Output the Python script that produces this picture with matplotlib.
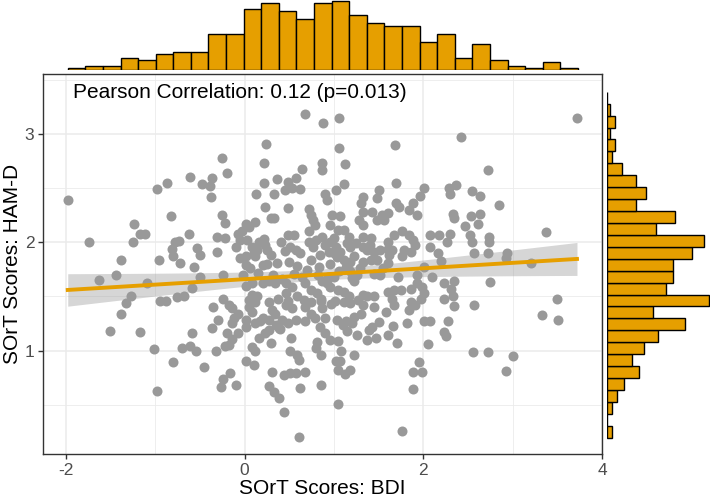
import numpy as np
import matplotlib
matplotlib.use("Agg")
import matplotlib.pyplot as plt

plt.rcParams['font.family'] = ['Liberation Sans', 'DejaVu Sans']
plt.rcParams['axes.unicode_minus'] = False

# SOrT scores, grouped by area of the plot
bdi_left = [-1.98, -1.74, -1.38, -1.63, -1.44, -1.51, -1.33, -1.38, -1.27, -1.24,
            -1.25, -1.17, -1.11, -1.17, -1.09, -1.02, -0.98, -0.98, -0.87, -0.82,
            -0.96, -0.95, -0.88, -0.80, -0.78, -0.73, -0.81, -0.80, -0.72, -0.76,
            -0.68, -0.61, -0.48, -0.39, -0.37, -0.62, -0.53, -0.50, -0.57, -0.59,
            -0.59, -0.61, -0.55, -0.46, -0.35, -0.36, -0.32, -0.31, -0.31, -0.25,
            -0.20, -0.25, -0.22, -0.22, -0.24, -0.24, -0.18, -0.20, -0.22, -0.24,
            -0.27]
hamd_left = [2.39, 2.00, 1.84, 1.65, 1.70, 1.18, 1.44, 1.34, 1.50, 2.17,
             2.00, 2.08, 2.08, 1.17, 1.62, 1.01, 0.63, 2.49, 2.55, 2.24,
             1.84, 1.46, 1.46, 0.89, 2.00, 2.01, 1.94, 1.87, 1.81, 1.49,
             1.50, 2.60, 2.54, 2.52, 2.59, 2.08, 1.95, 1.88, 1.77, 1.58,
             1.16, 1.04, 1.00, 0.85, 1.40, 1.21, 1.00, 2.05, 1.91, 2.78,
             2.64, 2.25, 2.18, 2.04, 1.70, 1.48, 1.42, 1.16, 1.04, 0.74,
             0.66]

bdi_mid = [0.68, 0.88, 0.24, 0.22, 0.22, 0.36, 0.49, 0.57, 0.64, 0.53,
           0.62, 0.87, 0.87, 0.33, 0.23, 0.48, 0.72, 0.74, 0.90, 0.92,
           0.29, 0.33, 0.12, 0.01, 0.05, -0.03, -0.07, 0.49, 0.55, 0.72,
           0.77, 0.79, -0.05, -0.10, 0.16, 0.23, 0.08, 0.14, 0.25, 0.51,
           0.57, 0.72, 0.76, 0.87, 0.90, 0.94, 0.01, 0.12, 0.20, 0.01,
           0.06, 0.36, 0.59, 0.74, 0.83, 0.64, 0.20, 0.27, 0.34, 0.01,
           0.08, 0.46, 0.53, 0.68, 0.74, 0.81, 0.87, 0.92, 0.46, 0.08,
           0.14, 0.27, 0.59, 0.66, 0.74, 0.85, -0.14, -0.07, 0.05, 0.08,
           0.31, 0.34, 0.46, 0.53, 0.68, 0.74, 0.87, 0.90, 0.01, 0.12,
           0.20, 0.27, 0.42, 0.49, 0.57, 0.68, 0.79, -0.14, 0.27, 0.38]
hamd_mid = [3.18, 3.10, 2.91, 2.73, 2.55, 2.58, 2.56, 2.59, 2.68, 2.50,
            2.49, 2.73, 2.67, 2.45, 2.33, 2.32, 2.31, 2.25, 2.45, 2.39,
            2.22, 2.22, 2.19, 2.17, 2.14, 2.10, 2.08, 2.07, 2.07, 2.10,
            2.21, 2.16, 2.02, 1.96, 2.00, 1.97, 1.96, 1.93, 1.93, 1.96,
            1.93, 2.00, 1.96, 2.05, 1.97, 1.91, 1.87, 1.87, 1.79, 1.79,
            1.76, 1.81, 1.78, 1.84, 1.77, 1.68, 1.62, 1.64, 1.62, 1.60,
            1.62, 1.62, 1.59, 1.62, 1.56, 1.53, 1.64, 1.62, 1.53, 1.51,
            1.50, 1.45, 1.50, 1.47, 1.45, 1.48, 1.39, 1.34, 1.40, 1.36,
            1.37, 1.34, 1.42, 1.39, 1.40, 1.34, 1.39, 1.30, 1.28, 1.25,
            1.30, 1.28, 1.28, 1.25, 1.28, 1.27, 1.30, 1.25, 1.19, 1.21]

bdi_right = [1.06, 1.68, 1.06, 1.12, 1.69, 1.11, 1.02, 2.01, 1.96, 1.50,
             1.48, 1.32, 1.30, 1.69, 1.73, 1.88, 1.43, 1.54, 1.60, 1.33,
             1.84, 1.93, 0.98, 1.07, 0.96, 1.04, 1.28, 1.32, 1.48, 1.56,
             1.11, 1.17, 1.76, 1.84, 1.67, 1.61, 1.33, 1.41, 1.89, 1.91,
             2.08, 1.02, 1.07, 1.00, 1.18, 1.22, 1.32, 1.37, 1.45, 1.52,
             1.60, 1.65, 1.78, 1.86, 1.76, 2.08, 1.11, 1.18, 1.33, 1.41,
             1.48, 1.60, 2.01, 1.00, 1.18, 1.26, 1.45, 1.52, 1.93, 0.96,
             1.04, 1.20, 1.22, 1.11, 1.17, 1.32, 1.37, 1.45, 1.60, 1.67,
             1.75, 1.86, 1.93, 1.99, 2.01, 1.97, 1.65, 1.67, 1.86, 1.91,
             1.11, 1.18, 1.32, 1.45, 1.58, 1.84, 1.30, 1.22, 1.13, 1.20,
             1.43, 1.82, 2.01, 2.08]
hamd_right = [3.15, 2.90, 2.87, 2.72, 2.55, 2.54, 2.48, 2.50, 2.43, 2.48,
              2.41, 2.42, 2.36, 2.36, 2.33, 2.36, 2.28, 2.25, 2.27, 2.28,
              2.30, 2.25, 2.25, 2.24, 2.16, 2.11, 2.21, 2.16, 2.21, 2.21,
              2.11, 2.05, 2.10, 2.07, 2.07, 2.00, 2.05, 2.04, 2.02, 1.97,
              2.07, 1.96, 1.91, 1.90, 1.96, 1.87, 1.96, 1.93, 1.91, 1.93,
              1.94, 1.93, 1.93, 1.91, 1.87, 1.96, 1.84, 1.82, 1.82, 1.84,
              1.84, 1.81, 1.77, 1.68, 1.73, 1.70, 1.71, 1.70, 1.70, 1.59,
              1.56, 1.67, 1.64, 1.54, 1.50, 1.51, 1.50, 1.50, 1.54, 1.56,
              1.56, 1.57, 1.62, 1.59, 1.53, 1.48, 1.48, 1.42, 1.45, 1.42,
              1.45, 1.44, 1.42, 1.40, 1.36, 1.37, 1.34, 1.31, 1.27, 1.25,
              1.22, 1.25, 1.27, 1.27]

bdi_far = [3.72, 2.42, 2.72, 2.29, 2.37, 2.55, 2.64, 2.85, 2.33, 2.34,
           2.53, 2.64, 2.61, 2.47, 3.37, 2.18, 2.30, 2.52, 2.74, 2.74,
           2.27, 2.55, 2.57, 2.72, 2.94, 2.16, 2.75, 3.20, 2.92, 2.57,
           2.34, 2.23, 2.33, 2.31, 2.34, 2.23, 2.10, 2.28, 2.23, 2.25,
           3.50, 3.33, 3.51, 2.56, 2.72, 3.00, 2.93, 1.95, 1.88, 1.99,
           1.88]
hamd_far = [3.15, 2.97, 2.67, 2.50, 2.53, 2.47, 2.43, 2.34, 2.26, 2.22,
            2.24, 2.26, 2.17, 2.15, 2.09, 2.07, 2.08, 2.07, 2.05, 2.00,
            2.00, 2.00, 1.90, 1.90, 1.90, 1.90, 1.63, 1.81, 1.85, 1.42,
            1.41, 1.48, 1.50, 1.57, 1.64, 1.62, 1.68, 1.27, 1.17, 1.13,
            1.48, 1.33, 1.28, 0.99, 0.99, 0.95, 0.81, 0.89, 0.80, 0.80,
            0.64]

bdi_low = [-0.07, -0.14, 0.12, 0.01, 0.10, -0.16, -0.10, 0.51, 0.59, 0.61,
           0.81, 0.85, 0.90, 1.04, 1.02, 1.04, 1.07, 1.18, 1.22, 1.26,
           1.39, 1.37, 1.60, 1.71, 0.31, 0.44, 0.51, 0.57, 0.27, 0.33,
           0.38, 0.62, 0.85, 0.44, 1.05, 1.76, 0.61]
hamd_low = [1.16, 1.11, 1.00, 0.90, 0.87, 0.79, 0.68, 1.00, 0.96, 0.91,
            1.08, 0.96, 1.16, 1.09, 0.90, 0.82, 0.90, 0.82, 0.96, 1.14,
            1.19, 1.10, 1.14, 1.07, 0.80, 0.77, 0.79, 0.79, 0.67, 0.62,
            0.56, 0.65, 0.68, 0.43, 0.51, 0.26, 0.20]

# points hidden inside the overlapping blobs of the dense centre
bdi_core = [-0.12, -0.05, -0.18, -0.02, 0.03, 0.10, 0.15, 0.05, 0.12, 0.02,
            0.16, 0.08, 0.17, 0.13, 0.22, 0.30, 0.25, 0.32, 0.37, 0.23,
            0.35, 0.29, 0.41, 0.45, 0.50, 0.55, 0.42, 0.48, 0.40, 0.52,
            0.45, 0.62, 0.70, 0.80, 0.95, 0.84, 0.96, 0.82, 0.93, 0.86,
            0.97, 0.84, 0.95, 0.80, 1.00, 1.15, 1.03, 1.14, 1.06, 1.01,
            1.10, 1.15, 1.03, 1.08, 1.25, 1.29, 1.27, 1.40, 1.55, 1.50,
            1.47, 1.62, 1.72, 1.66, 2.20, 2.30, -0.50, -0.30, -0.38, -0.70,
            2.05, 0.68, 1.12]
hamd_core = [1.30, 1.85, 1.05, 1.70, 2.02, 1.90, 1.72, 1.47, 1.45, 1.22,
             1.12, 1.03, 1.27, 2.45, 2.03, 1.88, 1.80, 1.70, 1.48, 1.16,
             1.24, 1.07, 2.00, 1.92, 1.82, 1.71, 1.66, 1.46, 1.20, 1.12,
             2.48, 1.90, 1.74, 2.02, 2.00, 1.88, 1.80, 1.70, 1.68, 1.46,
             1.43, 1.22, 1.10, 1.02, 2.04, 1.99, 1.86, 1.77, 1.73, 1.46,
             1.24, 1.18, 1.28, 1.00, 1.99, 1.76, 1.47, 1.97, 1.76, 1.26,
             1.12, 1.88, 1.68, 1.23, 1.83, 2.45, 1.68, 1.28, 2.42, 1.02,
             1.06, 0.80, 0.78]

# marginal histogram counts (29 bins each)
bdi_bin_range = (-1.98, 3.73)
bdi_counts = [1, 2, 2, 6, 5, 8, 9, 9, 18, 18, 31, 34, 30, 26, 34,
              35, 28, 24, 22, 22, 14, 18, 6, 13, 5, 2, 1, 4, 1]
hamd_bin_range = (0.195, 3.39)
hamd_counts = [2, 0, 2, 4, 7, 13, 10, 15, 21, 32, 19, 42, 24, 27, 27,
               35, 40, 20, 28, 12, 16, 12, 6, 2, 3, 1, 3, 1, 0]

pearson_label = "Pearson Correlation: 0.12 (p=0.013)"

bdi = np.array(bdi_left + bdi_mid + bdi_right + bdi_far + bdi_low + bdi_core)
hamd = np.array(hamd_left + hamd_mid + hamd_right + hamd_far + hamd_low + hamd_core)

# linear fit with 95% band, like geom_smooth(method = "lm")
n = len(bdi)
slope, icpt = np.polyfit(bdi, hamd, 1)
resid = hamd - (icpt + slope * bdi)
s = np.sqrt(np.sum(resid ** 2) / (n - 2))
sxx = np.sum((bdi - bdi.mean()) ** 2)
xs = np.linspace(bdi.min(), bdi.max(), 80)
fit = icpt + slope * xs
se = s * np.sqrt(1 / n + (xs - bdi.mean()) ** 2 / sxx)
band = 1.966 * se

W, H = 710, 501
fig = plt.figure(figsize=(W / 100, H / 100), dpi=100)


def box(l, t, r, b):
    return [l / W, 1 - b / H, (r - l) / W, (b - t) / H]


ax = fig.add_axes(box(43, 74, 602, 454))
ax_top = fig.add_axes(box(43, 0, 602, 69.5))
ax_side = fig.add_axes(box(607.3, 74, 710, 454))

orange = '#E69F00'
xlim = (-2.257, 4.0)
ylim = (0.044, 3.554)

ax.scatter(bdi, hamd, s=52, color='#999999', linewidths=0, zorder=2)
ax.fill_between(xs, fit - band, fit + band, color='#999999', alpha=0.4,
                linewidth=0, zorder=3)
ax.plot(xs, fit, color=orange, linewidth=2.8, zorder=4)
ax.text(0.053, 0.936, pearson_label, transform=ax.transAxes, fontsize=15,
        va='baseline', ha='left', color='black')

ax.set_xlim(xlim)
ax.set_ylim(ylim)
ax.set_xticks([-2, 0, 2, 4])
ax.set_yticks([1, 2, 3])
ax.set_xticks([-1, 1, 3], minor=True)
ax.set_yticks([0.5, 1.5, 2.5, 3.5], minor=True)
ax.grid(which='major', color='#EBEBEB', linewidth=1.1)
ax.grid(which='minor', color='#EBEBEB', linewidth=0.6)
ax.set_axisbelow(True)
ax.tick_params(which='major', length=3.8, width=1.0, color='#333333',
               labelsize=12.5, labelcolor='#4D4D4D', pad=2.5)
ax.tick_params(which='minor', length=0)
for sp in ax.spines.values():
    sp.set_color('#333333')
    sp.set_linewidth(1.0)
ax.set_xlabel('SOrT Scores: BDI', fontsize=15, labelpad=1)
ax.set_ylabel('SOrT Scores: HAM-D', fontsize=15, labelpad=1.5)

# top margin: BDI histogram
edges = np.linspace(bdi_bin_range[0], bdi_bin_range[1], len(bdi_counts) + 1)
ax_top.bar(edges[:-1], bdi_counts, width=np.diff(edges), align='edge',
           color=orange, edgecolor='black', linewidth=1.0)
ax_top.set_xlim(xlim)
ax_top.set_ylim(0, 35.5)
ax_top.axis('off')

# right margin: HAM-D histogram
edges = np.linspace(hamd_bin_range[0], hamd_bin_range[1], len(hamd_counts) + 1)
ax_side.barh(edges[:-1], hamd_counts, height=np.diff(edges), align='edge',
             color=orange, edgecolor='black', linewidth=1.0)
ax_side.set_ylim(ylim)
ax_side.set_xlim(0, 42.3)
ax_side.axis('off')

fig.savefig('out.png', dpi=100)
